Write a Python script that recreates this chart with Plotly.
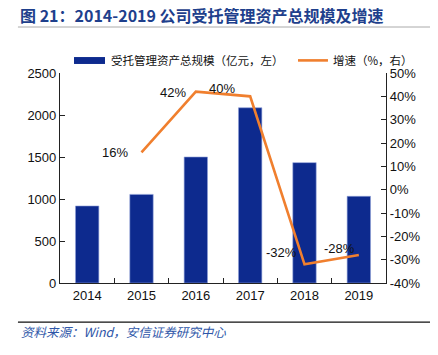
import plotly.graph_objects as go

years = ["2014", "2015", "2016", "2017", "2018", "2019"]
aum = [917, 1055, 1500, 2086, 1433, 1032]          # 亿元
growth_years = ["2015", "2016", "2017", "2018", "2019"]
growth = [16, 42, 40, -32, -28]                     # %
growth_labels = ["16%", "42%", "40%", "-32%", "-28%"]
left_ticks = [0, 500, 1000, 1500, 2000, 2500]
right_ticks = [-40, -30, -20, -10, 0, 10, 20, 30, 40, 50]

BAR = "#0D2A8E"
ORANGE = "#F07F2E"
NUM_FONT = "Liberation Sans, Arial, sans-serif"
CJK = "Noto Sans CJK SC"

fig = go.Figure()
fig.add_trace(go.Bar(x=years, y=aum, marker=dict(color=BAR, line=dict(color="#8FA0D8", width=0.6)),
                     width=0.43, name="受托管理资产总规模（亿元，左）"))
fig.add_trace(go.Scatter(x=growth_years, y=growth, yaxis="y2", mode="lines",
                         line=dict(color=ORANGE, width=2.6), name="增速（%，右）"))

# data labels (x given as category index)
offsets = [(-12, 0), (-8, -1), (-13, 8), (-6, 12), (-2, 7)]
for xv, yv, lab, (dx, dy) in zip(growth_years, growth, growth_labels, offsets):
    fig.add_annotation(x=years.index(xv), y=yv, xref="x", yref="y2", text=lab, showarrow=False,
                       xanchor="right", yanchor="middle", xshift=dx, yshift=dy,
                       font=dict(family=NUM_FONT, size=13, color="#111111"))

fig.update_layout(
    width=430, height=347,
    margin=dict(l=52, r=52, t=65, b=72),
    paper_bgcolor="white", plot_bgcolor="white",
    showlegend=False,
    xaxis=dict(type="category", range=[-0.5, 5.5], autorange=False, tickson="boundaries",
               ticks="inside", ticklen=5,
               tickcolor="#222", showline=True, linecolor="#222", linewidth=1.2,
               tickfont=dict(family=NUM_FONT, size=13, color="#111"), showgrid=False),
    yaxis=dict(range=[0, 2500], tickvals=left_ticks, ticks="inside", ticklen=5,
               tickcolor="#222", showline=True, linecolor="#222", linewidth=1.2,
               tickfont=dict(family=NUM_FONT, size=13, color="#111"), showgrid=False,
               zeroline=False),
    yaxis2=dict(range=[-40, 50], tickvals=right_ticks, ticktext=[f"{v}%" for v in right_ticks],
                overlaying="y", side="right", ticks="inside", ticklen=5,
                tickcolor="#222", showline=True, linecolor="#222", linewidth=1.2,
                tickfont=dict(family=NUM_FONT, size=13, color="#111"), showgrid=False,
                zeroline=False),
)

# title
fig.add_annotation(xref="paper", yref="paper", x=-0.125, y=1.276, xanchor="left", yanchor="middle",
                   text="<b>图 21：2014-2019 公司受托管理资产总规模及增速</b>", showarrow=False,
                   borderpad=0, font=dict(family=CJK, size=16, color="#1E3F8C"))
# title underline and footer line
fig.add_shape(type="line", xref="paper", yref="paper", x0=-0.129, x1=1.16, y0=1.219, y1=1.219,
              line=dict(color="#AAAAAA", width=1))
fig.add_shape(type="line", xref="paper", yref="paper", x0=-0.129, x1=1.14, y0=-0.186, y1=-0.186,
              line=dict(color="#111111", width=1.3))
fig.add_annotation(xref="paper", yref="paper", x=-0.125, y=-0.229, xanchor="left", yanchor="middle",
                   text="<i>资料来源：Wind，安信证券研究中心</i>", showarrow=False,
                   font=dict(family=CJK, size=12.5, color="#2E56A8"))

# manual legend
fig.add_shape(type="rect", xref="paper", yref="paper", x0=0.043, x1=0.138, y0=1.043, y1=1.076,
              fillcolor=BAR, line=dict(width=0))
fig.add_annotation(xref="paper", yref="paper", x=0.153, y=1.064, xanchor="left", yanchor="middle",
                   text="受托管理资产总规模（亿元，左）", showarrow=False, borderpad=0,
                   font=dict(family=CJK, size=11.5, color="#111"))
fig.add_shape(type="line", xref="paper", yref="paper", x0=0.73, x1=0.822, y0=1.06, y1=1.06,
              line=dict(color=ORANGE, width=2.6))
fig.add_annotation(xref="paper", yref="paper", x=0.834, y=1.064, xanchor="left", yanchor="middle",
                   text="增速（%，右）", showarrow=False, borderpad=0,
                   font=dict(family=CJK, size=11.5, color="#111"))

fig.write_html("out.html")
